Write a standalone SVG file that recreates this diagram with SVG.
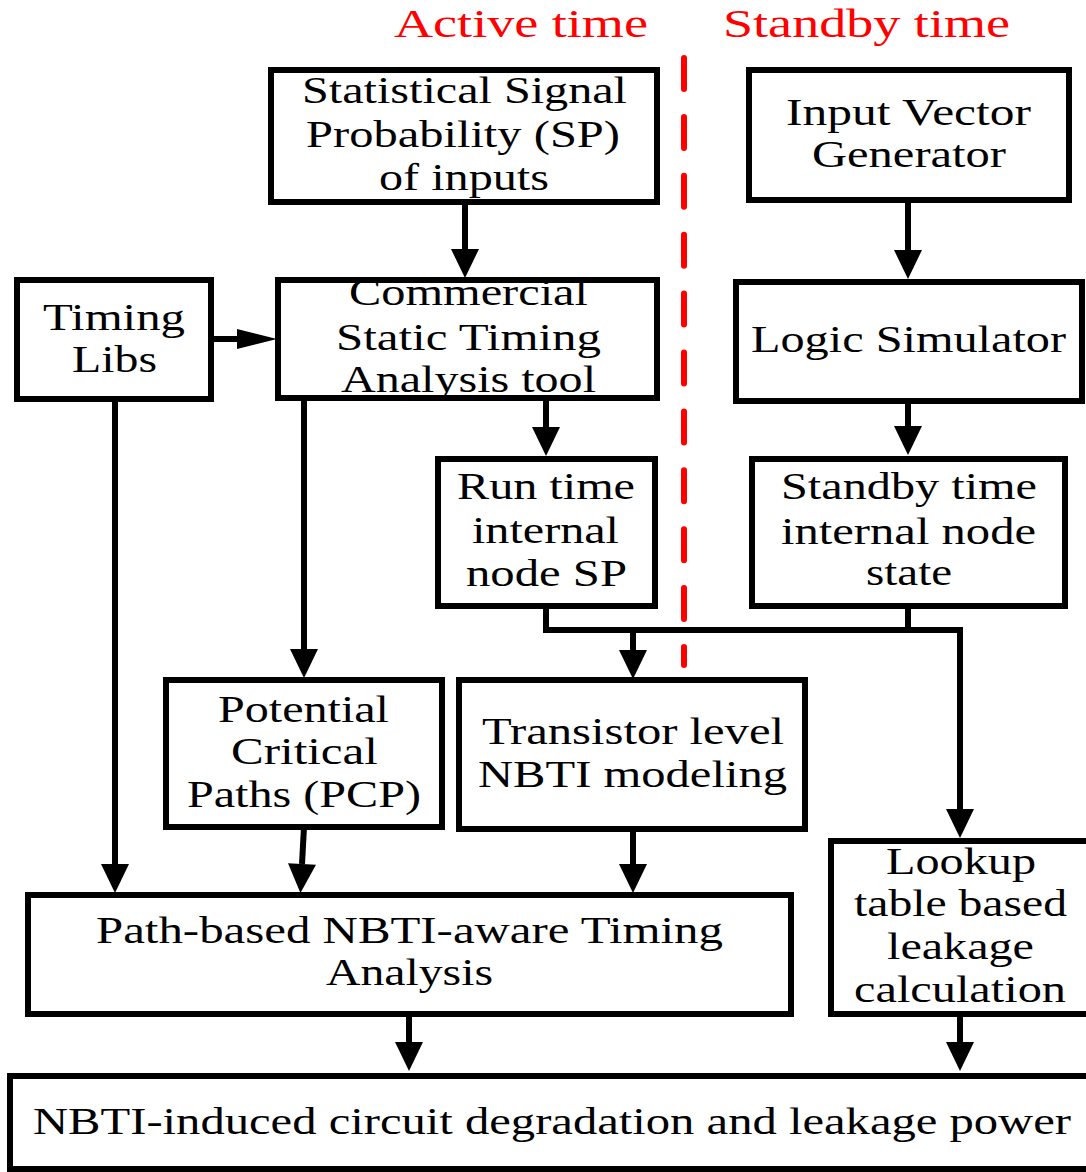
<svg xmlns="http://www.w3.org/2000/svg" width="1086" height="1172" viewBox="0 0 1086 1172">
  <style>
    .box { fill: #fff; stroke: #000; stroke-width: 6; stroke-linejoin: miter; }
    .t { font-family: "Liberation Serif", "Times New Roman", serif; font-size: 38px; fill: #000; }
    .hdr { font-family: "Liberation Serif", "Times New Roman", serif; font-size: 41px; fill: #ff0000; }
    .wire { fill: none; stroke: #000; stroke-width: 6; }
    .arr { marker-end: url(#headV); }
    .divider { stroke: #ff0000; stroke-width: 6; stroke-linecap: round; stroke-dasharray: 31 27.9; fill: none; }
  </style>
  <defs>
    <!-- arrowheads drawn from the base point forward -->
    <marker id="headV" markerUnits="userSpaceOnUse" markerWidth="30" markerHeight="30" refX="0" refY="14" orient="auto" overflow="visible">
      <path d="M0,0 L29,14 L0,28 Z" fill="#000"/>
    </marker>
    <marker id="headH" markerUnits="userSpaceOnUse" markerWidth="41" markerHeight="22" refX="0" refY="10" orient="auto" overflow="visible">
      <path d="M0,0 L40,10 L0,20 Z" fill="#000"/>
    </marker>
  </defs>

  <!-- phase headings and divider -->
  <text class="hdr" x="394" y="37" textLength="254" lengthAdjust="spacingAndGlyphs">Active time</text>
  <text class="hdr" x="723" y="37" textLength="287" lengthAdjust="spacingAndGlyphs">Standby time</text>
  <line class="divider" x1="684" y1="58" x2="684" y2="665"/>

  <!-- connectors -->
  <g id="connectors">
    <line class="wire arr" x1="465" y1="203" x2="465" y2="249"/>
    <line class="wire" x1="211" y1="339" x2="237" y2="339" marker-end="url(#headH)"/>
    <line class="wire arr" x1="908" y1="200" x2="908" y2="250"/>
    <line class="wire arr" x1="546" y1="398" x2="546" y2="427"/>
    <line class="wire arr" x1="908" y1="401" x2="908" y2="426"/>
    <line class="wire arr" x1="304" y1="398" x2="304" y2="649"/>
    <line class="wire arr" x1="115" y1="399" x2="115" y2="864"/>
    <polyline class="wire" points="546,606 546,630 960,630"/>
    <line class="wire" x1="908" y1="606" x2="908" y2="630"/>
    <line class="wire arr" x1="633" y1="627" x2="633" y2="650"/>
    <line class="wire arr" x1="960" y1="627" x2="960" y2="809"/>
    <line class="wire arr" x1="304" y1="827" x2="302" y2="864"/>
    <line class="wire arr" x1="633" y1="829" x2="633" y2="864"/>
    <line class="wire arr" x1="409" y1="1014" x2="409" y2="1042"/>
    <line class="wire arr" x1="960" y1="1014" x2="960" y2="1042"/>
  </g>

  <g id="node-sp-inputs">
    <rect class="box" x="271" y="70" width="386" height="132"/>
    <text class="t" x="302" y="103" textLength="325" lengthAdjust="spacingAndGlyphs">Statistical Signal</text>
    <text class="t" x="306" y="147" textLength="314" lengthAdjust="spacingAndGlyphs">Probability (SP)</text>
    <text class="t" x="379" y="190" textLength="170" lengthAdjust="spacingAndGlyphs">of inputs</text>
  </g>

  <g id="node-ivg">
    <rect class="box" x="749" y="70" width="320" height="130"/>
    <text class="t" x="786" y="125" textLength="245" lengthAdjust="spacingAndGlyphs">Input Vector</text>
    <text class="t" x="812" y="167" textLength="194" lengthAdjust="spacingAndGlyphs">Generator</text>
  </g>

  <g id="node-timing-libs">
    <rect class="box" x="17" y="280" width="194" height="119"/>
    <text class="t" x="43" y="330" textLength="142" lengthAdjust="spacingAndGlyphs">Timing</text>
    <text class="t" x="72" y="372" textLength="85" lengthAdjust="spacingAndGlyphs">Libs</text>
  </g>

  <g id="node-sta">
    <rect class="box" x="278" y="280" width="379" height="118"/>
    <text class="t" x="349" y="305" textLength="239" lengthAdjust="spacingAndGlyphs">Commercial</text>
    <text class="t" x="336" y="350" textLength="265" lengthAdjust="spacingAndGlyphs">Static Timing</text>
    <text class="t" x="341" y="392" textLength="255" lengthAdjust="spacingAndGlyphs">Analysis tool</text>
  </g>

  <g id="node-logic-sim">
    <rect class="box" x="736" y="282" width="346" height="119"/>
    <text class="t" x="751" y="352" textLength="315" lengthAdjust="spacingAndGlyphs">Logic Simulator</text>
  </g>

  <g id="node-runtime-sp">
    <rect class="box" x="438" y="459" width="217" height="147"/>
    <text class="t" x="457" y="499" textLength="178" lengthAdjust="spacingAndGlyphs">Run time</text>
    <text class="t" x="472" y="543" textLength="147" lengthAdjust="spacingAndGlyphs">internal</text>
    <text class="t" x="466" y="586" textLength="161" lengthAdjust="spacingAndGlyphs">node SP</text>
  </g>

  <g id="node-standby-state">
    <rect class="box" x="752" y="459" width="313" height="147"/>
    <text class="t" x="781" y="499" textLength="256" lengthAdjust="spacingAndGlyphs">Standby time</text>
    <text class="t" x="781" y="544" textLength="255" lengthAdjust="spacingAndGlyphs">internal node</text>
    <text class="t" x="866" y="585" textLength="86" lengthAdjust="spacingAndGlyphs">state</text>
  </g>

  <g id="node-pcp">
    <rect class="box" x="166" y="680" width="276" height="147"/>
    <text class="t" x="218" y="722" textLength="171" lengthAdjust="spacingAndGlyphs">Potential</text>
    <text class="t" x="231" y="764" textLength="147" lengthAdjust="spacingAndGlyphs">Critical</text>
    <text class="t" x="187" y="807" textLength="234" lengthAdjust="spacingAndGlyphs">Paths (PCP)</text>
  </g>

  <g id="node-nbti-model">
    <rect class="box" x="459" y="680" width="346" height="149"/>
    <text class="t" x="482" y="744" textLength="302" lengthAdjust="spacingAndGlyphs">Transistor level</text>
    <text class="t" x="478" y="787" textLength="309" lengthAdjust="spacingAndGlyphs">NBTI modeling</text>
  </g>

  <g id="node-path-sta">
    <rect class="box" x="28" y="895" width="763" height="119"/>
    <text class="t" x="96" y="943" textLength="627" lengthAdjust="spacingAndGlyphs">Path-based NBTI-aware Timing</text>
    <text class="t" x="326" y="985" textLength="167" lengthAdjust="spacingAndGlyphs">Analysis</text>
  </g>

  <g id="node-lookup">
    <rect class="box" x="831" y="841" width="258" height="173"/>
    <text class="t" x="886" y="874" textLength="150" lengthAdjust="spacingAndGlyphs">Lookup</text>
    <text class="t" x="854" y="916" textLength="213" lengthAdjust="spacingAndGlyphs">table based</text>
    <text class="t" x="887" y="959" textLength="147" lengthAdjust="spacingAndGlyphs">leakage</text>
    <text class="t" x="854" y="1002" textLength="212" lengthAdjust="spacingAndGlyphs">calculation</text>
  </g>

  <g id="node-result">
    <rect class="box" x="10" y="1076" width="1082" height="93"/>
    <text class="t" x="33" y="1134" textLength="1038" lengthAdjust="spacingAndGlyphs">NBTI-induced circuit degradation and leakage power</text>
  </g>
</svg>
